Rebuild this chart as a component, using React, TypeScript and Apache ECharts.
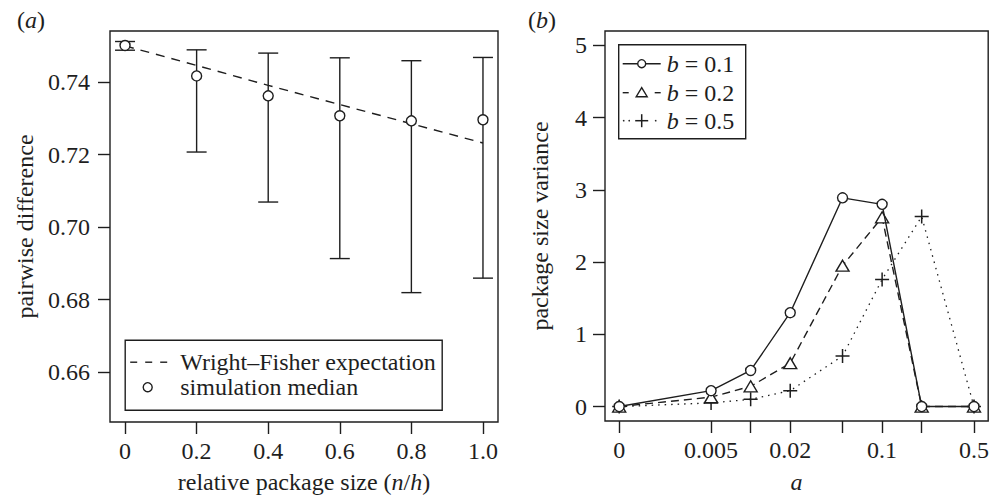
import React, { useEffect, useRef } from "react";
import * as echarts from "echarts";

// ---------- panel (a) data ----------
const relSize = [0, 0.2, 0.4, 0.6, 0.8, 1.0];
const wfExpectation = [0.75, 0.7446, 0.7391, 0.7338, 0.7285, 0.7232];
const simMedian = [0.7501, 0.7417, 0.7362, 0.7307, 0.7293, 0.7296];
const simLow = [0.7488, 0.7207, 0.7069, 0.6913, 0.6819, 0.6859];
const simHigh = [0.7512, 0.7489, 0.748, 0.7467, 0.7459, 0.7468];
const relSizeTicks = [0, 0.2, 0.4, 0.6, 0.8, 1.0];
const pairwiseTicks = [0.66, 0.68, 0.7, 0.72, 0.74];

// ---------- panel (b) data ----------
const aValues = [0, 0.005, 0.01, 0.02, 0.05, 0.1, 0.2, 0.5];
const aLabelled = [0, 0.005, 0.02, 0.1, 0.5];
const varB01 = [0, 0.22, 0.5, 1.3, 2.89, 2.8, 0, 0];
const varB02 = [0, 0.13, 0.28, 0.6, 1.95, 2.62, 0, 0];
const varB05 = [0, 0.05, 0.1, 0.22, 0.7, 1.76, 2.63, 0];
const varianceTicks = [0, 1, 2, 3, 4, 5];

const ZERO_POS = 0.001; // where a = 0 is drawn on the log axis
const toLog = (a: number) => Math.log10(a === 0 ? ZERO_POS : a);

const FONT = '"Liberation Serif", "Times New Roman", serif';
const INK = "#1e1e1e";
const FS = 24;
const LW = 1.4;

export default function App() {
  const ref = useRef<HTMLDivElement>(null);

  useEffect(() => {
    if (!ref.current) return;
    const chart = echarts.init(ref.current, undefined, { renderer: "svg" });

    const logMin = toLog(aValues[0]);
    const logMax = toLog(aValues[aValues.length - 1]);
    const logPad = (logMax - logMin) * 0.04;

    const axisText = { color: INK, fontFamily: FONT, fontSize: FS };
    const tick = { show: true, inside: false, length: 12, lineStyle: { color: INK, width: LW } };
    const noLine = { show: false, onZero: false };
    const italic = { i: { ...axisText, fontStyle: "italic" } };
    const gItalic = { i: { fontStyle: "italic", fontSize: FS, fontFamily: FONT, fill: INK } };

    const errorBarData = relSize.map((x, i) => [x, simLow[i], simHigh[i]]);

    const option: any = {
      animation: false,
      backgroundColor: "#fff",
      textStyle: { fontFamily: FONT },
      grid: [
        { left: 110, top: 31, width: 388, height: 392, show: true, borderColor: INK, borderWidth: LW, backgroundColor: "transparent" },
        { left: 605, top: 31, width: 386, height: 392, show: true, borderColor: INK, borderWidth: LW, backgroundColor: "transparent" },
      ],
      xAxis: [
        {
          type: "value",
          gridIndex: 0,
          min: -0.042,
          max: 1.042,
          axisLine: noLine,
          axisTick: { ...tick, customValues: relSizeTicks },
          axisLabel: {
            ...axisText,
            margin: 17,
            customValues: relSizeTicks,
            formatter: (v: number) => (v === 0 ? "0" : v.toFixed(1)),
          },
          splitLine: { show: false },
          name: "relative package size ({i|n}/{i|h})",
          nameLocation: "middle",
          nameGap: 48,
          nameTextStyle: { ...axisText, rich: italic },
        },
        {
          type: "value",
          gridIndex: 1,
          min: logMin - logPad,
          max: logMax + logPad,
          axisLine: noLine,
          axisTick: { ...tick, customValues: aValues.map(toLog) },
          axisLabel: {
            ...axisText,
            margin: 17,
            customValues: aLabelled.map(toLog),
            formatter: (v: number) => {
              const a = Math.pow(10, v);
              if (a < ZERO_POS * 1.5) return "0";
              return String(parseFloat(a.toPrecision(3)));
            },
          },
          splitLine: { show: false },
          name: "a",
          nameLocation: "middle",
          nameGap: 49,
          nameTextStyle: { ...axisText, fontStyle: "italic" },
        },
      ],
      yAxis: [
        {
          type: "value",
          gridIndex: 0,
          min: 0.6462,
          max: 0.7541,
          axisLine: noLine,
          axisTick: { ...tick, customValues: pairwiseTicks },
          axisLabel: {
            ...axisText,
            margin: 20,
            customValues: pairwiseTicks,
            formatter: (v: number) => v.toFixed(2),
          },
          splitLine: { show: false },
          name: "pairwise difference",
          nameLocation: "middle",
          nameRotate: 90,
          nameGap: 73,
          nameTextStyle: axisText,
        },
        {
          type: "value",
          gridIndex: 1,
          min: -0.2,
          max: 5.2,
          axisLine: noLine,
          axisTick: { ...tick, customValues: varianceTicks },
          axisLabel: {
            ...axisText,
            margin: 18,
            customValues: varianceTicks,
            formatter: (v: number) => String(Math.round(v)),
          },
          splitLine: { show: false },
          name: "package size variance",
          nameLocation: "middle",
          nameRotate: 90,
          nameGap: 53,
          nameTextStyle: axisText,
        },
      ],
      series: [
        {
          name: "Wright–Fisher expectation",
          type: "line",
          xAxisIndex: 0,
          yAxisIndex: 0,
          data: relSize.map((x, i) => [x, wfExpectation[i]]),
          showSymbol: false,
          symbol: "none",
          lineStyle: { color: INK, width: LW, type: [9, 7] },
          z: 2,
        },
        {
          name: "error bars",
          type: "custom",
          xAxisIndex: 0,
          yAxisIndex: 0,
          data: errorBarData,
          encode: { x: 0, y: [1, 2] },
          renderItem: (_params: any, api: any) => {
            const x = api.value(0);
            const lo = api.coord([x, api.value(1)]);
            const hi = api.coord([x, api.value(2)]);
            const hw = 10;
            const st = { stroke: INK, lineWidth: LW };
            return {
              type: "group",
              children: [
                { type: "line", shape: { x1: lo[0], y1: lo[1], x2: hi[0], y2: hi[1] }, style: st },
                { type: "line", shape: { x1: lo[0] - hw, y1: lo[1], x2: lo[0] + hw, y2: lo[1] }, style: st },
                { type: "line", shape: { x1: hi[0] - hw, y1: hi[1], x2: hi[0] + hw, y2: hi[1] }, style: st },
              ],
            };
          },
          z: 3,
        },
        {
          name: "simulation median",
          type: "scatter",
          xAxisIndex: 0,
          yAxisIndex: 0,
          data: relSize.map((x, i) => [x, simMedian[i]]),
          symbol: "circle",
          symbolSize: 10,
          itemStyle: { color: "#fff", borderColor: INK, borderWidth: LW, opacity: 1 },
          z: 4,
        },
        {
          name: "b = 0.5",
          type: "line",
          xAxisIndex: 1,
          yAxisIndex: 1,
          data: aValues.map((a, i) => [toLog(a), varB05[i]]),
          symbol: "path://M0,6 L12,6 M6,0 L6,12",
          symbolSize: 14,
          showSymbol: true,
          lineStyle: { color: INK, width: 1.3, type: [1.5, 5] },
          itemStyle: { color: "none", borderColor: INK, borderWidth: 1.5 },
          z: 3,
        },
        {
          name: "b = 0.2",
          type: "line",
          xAxisIndex: 1,
          yAxisIndex: 1,
          data: aValues.map((a, i) => [toLog(a), varB02[i]]),
          symbol: "triangle",
          symbolSize: [13, 11],
          showSymbol: true,
          lineStyle: { color: INK, width: LW, type: [8, 5] },
          itemStyle: { color: "#fff", borderColor: INK, borderWidth: LW },
          z: 4,
        },
        {
          name: "b = 0.1",
          type: "line",
          xAxisIndex: 1,
          yAxisIndex: 1,
          data: aValues.map((a, i) => [toLog(a), varB01[i]]),
          symbol: "circle",
          symbolSize: 10,
          showSymbol: true,
          lineStyle: { color: INK, width: LW },
          itemStyle: { color: "#fff", borderColor: INK, borderWidth: LW },
          z: 5,
        },
      ],
      graphic: [
        // panel labels
        { type: "text", left: 17, top: 8, style: { text: "({i|a})", fill: INK, font: `${FS}px ${FONT}`, rich: gItalic } },
        { type: "text", left: 528, top: 8, style: { text: "({i|b})", fill: INK, font: `${FS}px ${FONT}`, rich: gItalic } },
        // legend (a)
        {
          type: "group",
          left: 124.5,
          top: 339.5,
          children: [
            { type: "rect", shape: { x: 0, y: 0, width: 317, height: 70 }, style: { fill: "#fff", stroke: INK, lineWidth: LW } },
            { type: "line", shape: { x1: 5, y1: 22, x2: 12, y2: 22 }, style: { stroke: INK, lineWidth: LW } },
            { type: "line", shape: { x1: 20, y1: 22, x2: 27, y2: 22 }, style: { stroke: INK, lineWidth: LW } },
            { type: "line", shape: { x1: 35, y1: 22, x2: 42, y2: 22 }, style: { stroke: INK, lineWidth: LW } },
            { type: "text", x: 55, y: 22, style: { text: "Wright–Fisher expectation", fill: INK, font: `${FS}px ${FONT}`, verticalAlign: "middle" } },
            { type: "circle", shape: { cx: 22.5, cy: 47, r: 4.5 }, style: { fill: "#fff", stroke: INK, lineWidth: LW } },
            { type: "text", x: 55, y: 47, style: { text: "simulation median", fill: INK, font: `${FS}px ${FONT}`, verticalAlign: "middle" } },
          ],
        },
        // legend (b)
        {
          type: "group",
          left: 618,
          top: 44,
          children: [
            { type: "rect", shape: { x: 0, y: 0, width: 127, height: 94 }, style: { fill: "#fff", stroke: INK, lineWidth: LW } },
            { type: "line", shape: { x1: 4, y1: 19, x2: 42, y2: 19 }, style: { stroke: INK, lineWidth: LW } },
            { type: "circle", shape: { cx: 23, cy: 19, r: 4 }, style: { fill: "#fff", stroke: INK, lineWidth: LW } },
            { type: "text", x: 48, y: 19, style: { text: "{i|b} = 0.1", fill: INK, font: `${FS}px ${FONT}`, verticalAlign: "middle", rich: gItalic } },
            { type: "line", shape: { x1: 4, y1: 48, x2: 10, y2: 48 }, style: { stroke: INK, lineWidth: LW } },
            { type: "line", shape: { x1: 36, y1: 48, x2: 42, y2: 48 }, style: { stroke: INK, lineWidth: LW } },
            { type: "polygon", shape: { points: [[23, 43], [17.5, 52], [28.5, 52]] }, style: { fill: "#fff", stroke: INK, lineWidth: LW } },
            { type: "text", x: 48, y: 48, style: { text: "{i|b} = 0.2", fill: INK, font: `${FS}px ${FONT}`, verticalAlign: "middle", rich: gItalic } },
            { type: "circle", shape: { cx: 5, cy: 76, r: 0.8 }, style: { fill: INK } },
            { type: "circle", shape: { cx: 10.5, cy: 76, r: 0.8 }, style: { fill: INK } },
            { type: "line", shape: { x1: 16.5, y1: 76, x2: 29.5, y2: 76 }, style: { stroke: INK, lineWidth: 1.5 } },
            { type: "line", shape: { x1: 23, y1: 69.5, x2: 23, y2: 82.5 }, style: { stroke: INK, lineWidth: 1.5 } },
            { type: "circle", shape: { cx: 37, cy: 76, r: 0.8 }, style: { fill: INK } },
            { type: "text", x: 48, y: 76, style: { text: "{i|b} = 0.5", fill: INK, font: `${FS}px ${FONT}`, verticalAlign: "middle", rich: gItalic } },
          ],
        },
      ],
    };

    chart.setOption(option);
    return () => chart.dispose();
  }, []);

  return (
    <div
      ref={ref}
      style={{ position: "fixed", left: 0, top: 0, width: 992, height: 499, background: "#fff" }}
    />
  );
}
